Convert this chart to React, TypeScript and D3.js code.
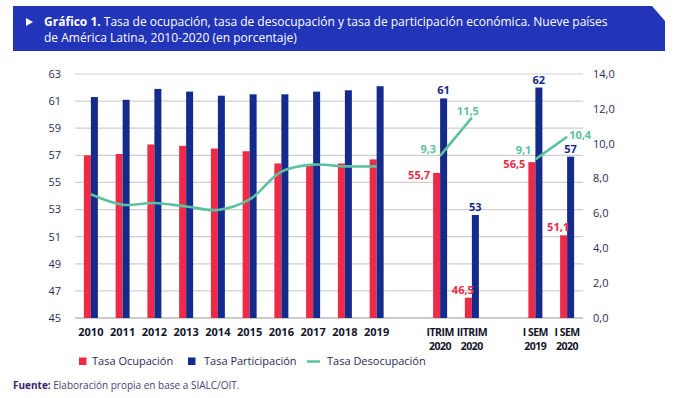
import React from "react";
import * as d3 from "d3";

const categories = [
  "2010", "2011", "2012", "2013", "2014", "2015", "2016", "2017", "2018", "2019",
  "ITRIM 2020", "IITRIM 2020", "I SEM 2019", "I SEM 2020",
];
const ocupacion = [57.0, 57.1, 57.8, 57.7, 57.5, 57.3, 56.4, 56.3, 56.4, 56.7, 55.7, 46.5, 56.5, 51.1];
const participacion = [61.3, 61.1, 61.9, 61.7, 61.4, 61.5, 61.5, 61.7, 61.8, 62.1, 61.2, 52.6, 62.0, 56.9];
const desocupacion = [7.1, 6.5, 6.6, 6.4, 6.2, 6.8, 8.4, 8.8, 8.7, 8.7, 9.3, 11.5, 9.1, 10.4];
const leftTicks = [45, 47, 49, 51, 53, 55, 57, 59, 61, 63];
const rightTicks = [0, 2, 4, 6, 8, 10, 12, 14];
// groups of categories; a blank slot separates each group
const groups = [
  [0, 1, 2, 3, 4, 5, 6, 7, 8, 9],
  [10, 11],
  [12, 13],
];
const labelled = [10, 11, 12, 13];
const legendItems = ["Tasa Ocupación", "Tasa Participación", "Tasa Desocupación"];

const RED = "#ee2a47";
const BLUE = "#152b8c";
const GREEN = "#5cc29e";
const FONT = "'Open Sans', 'Noto Sans', sans-serif";

const loc = d3.formatLocale({ decimal: ",", thousands: ".", grouping: [3], currency: ["", ""] });
const f1 = loc.format(".1f");
const f0 = loc.format(".0f");

export default function App() {
  const W = 680, H = 398;
  const left = 75, right = 583, top = 74, bottom = 318;

  // build slot domain with blank gaps between groups
  const slots: string[] = [];
  groups.forEach((g, gi) => {
    if (gi > 0) slots.push("gap" + gi);
    g.forEach((i) => slots.push(categories[i]));
  });
  const x = d3.scaleBand<string>().domain(slots).range([left, right]).paddingInner(0).paddingOuter(0);
  const cx = (i: number) => (x(categories[i]) as number) + x.bandwidth() / 2;
  const yL = d3.scaleLinear().domain([45, 63]).range([bottom, top]);
  const yR = d3.scaleLinear().domain([0, 14]).range([bottom, top]);
  const bw = 7;

  const line = d3
    .line<number>()
    .x((i) => cx(i))
    .y((i) => yR(desocupacion[i]))
    .curve(d3.curveCatmullRom.alpha(0.5));
  const straight = d3
    .line<number>()
    .x((i) => cx(i))
    .y((i) => yR(desocupacion[i]));

  // label placement offsets (layout only)
  const greenLabelPos: Record<number, { dx: number; dy: number; anchor: string }> = {
    10: { dx: -4, dy: -3, anchor: "end" },
    11: { dx: -4, dy: -3, anchor: "middle" },
    12: { dx: -4, dy: -5, anchor: "end" },
    13: { dx: 2, dy: 2, anchor: "start" },
  };

  return (
    <svg width={W} height={H} style={{ position: "absolute", left: 0, top: 0, background: "#fff" }} fontFamily={FONT}>
      {/* Title banner */}
      <path d="M13,6 L652,6 L665,21 L665,51 L13,51 Z" fill="#2234b8" />
      <path d="M26,18 L26,26 L33,22 Z" fill="#fff" />
      <text x={44} y={26} fontSize={12} fill="#fff">
        <tspan fontWeight={700}>Gráfico 1.</tspan>
        <tspan> Tasa de ocupación, tasa de desocupación y tasa de participación económica. Nueve países</tspan>
      </text>
      <text x={44} y={42} fontSize={12} fill="#fff">
        de América Latina, 2010-2020 (en porcentaje)
      </text>

      {/* Gridlines */}
      {leftTicks.map((t) => (
        <line key={t} x1={left} x2={right} y1={yL(t)} y2={yL(t)} stroke={t === 45 ? "#9a9a9a" : "#cfcfcf"} strokeWidth={1.2} />
      ))}
      {/* Left axis labels */}
      {leftTicks.map((t) => (
        <text key={"l" + t} x={61} y={yL(t)} dy="0.35em" textAnchor="end" fontSize={11} fill="#2a2c55">
          {t}
        </text>
      ))}
      {/* Right axis labels */}
      {rightTicks.map((t) => (
        <text key={"r" + t} x={593} y={yR(t)} dy="0.35em" textAnchor="start" fontSize={11} fill="#2a2c55">
          {f1(t)}
        </text>
      ))}

      {/* Bars */}
      {categories.map((c, i) => (
        <g key={c}>
          <rect x={cx(i) - bw} y={yL(ocupacion[i])} width={bw} height={bottom - yL(ocupacion[i])} fill={RED} />
          <rect x={cx(i)} y={yL(participacion[i])} width={bw} height={bottom - yL(participacion[i])} fill={BLUE} />
        </g>
      ))}

      {/* Desocupacion lines */}
      {groups.map((g, gi) => (
        <path
          key={"ln" + gi}
          d={(gi === 0 ? line : straight)(g) as string}
          fill="none"
          stroke={GREEN}
          strokeWidth={2.6}
        />
      ))}

      {/* Value labels */}
      {labelled.map((i, k) => {
        const first = k % 2 === 0;
        const rx = cx(i) - bw;
        const ry = yL(ocupacion[i]);
        const g = greenLabelPos[i];
        return (
          <g key={"lab" + i} fontSize={11} fontWeight={700}>
            {first ? (
              <text x={rx - 3} y={ry + 2} dy="0.35em" textAnchor="end" fill={RED}>
                {f1(ocupacion[i])}
              </text>
            ) : (
              <text x={cx(i) + 2} y={ry - 4} textAnchor="end" fill={RED}>
                {f1(ocupacion[i])}
              </text>
            )}
            <text x={cx(i) + bw / 2} y={yL(participacion[i]) - 4} textAnchor="middle" fill={BLUE}>
              {f0(participacion[i])}
            </text>
            <text x={cx(i) + g.dx} y={yR(desocupacion[i]) + g.dy} textAnchor={g.anchor} fill={GREEN}>
              {f1(desocupacion[i])}
            </text>
          </g>
        );
      })}

      {/* X axis labels */}
      {categories.map((c, i) => {
        const multi = c.startsWith("I");
        const parts = multi ? [c.slice(0, c.lastIndexOf(" ")), c.slice(c.lastIndexOf(" ") + 1)] : [c];
        return (
          <text
            key={"x" + c}
            x={cx(i)}
            y={335.5}
            textAnchor="middle"
            fontSize={multi ? 10.5 : 11}
            letterSpacing={multi ? -0.5 : 0}
            fontWeight={700}
            fill="#15152a"
          >
            {parts.map((p, j) => (
              <tspan key={j} x={cx(i)} dy={j === 0 ? 0 : 14.5}>
                {p}
              </tspan>
            ))}
          </text>
        );
      })}

      {/* Legend */}
      <g fontSize={11} fill="#2a2c55">
        <rect x={79} y={357.5} width={7.5} height={7.5} fill={RED} />
        <text x={92} y={361.5} dy="0.35em">{legendItems[0]}</text>
        <rect x={188} y={357.5} width={7.5} height={7.5} fill={BLUE} />
        <text x={204} y={361.5} dy="0.35em">{legendItems[1]}</text>
        <line x1={307} x2={320} y1={361.5} y2={361.5} stroke={GREEN} strokeWidth={2.5} />
        <text x={327} y={361.5} dy="0.35em">{legendItems[2]}</text>
      </g>

      {/* Footer */}
      <text x={13} y={389} fontSize={10}>
        <tspan fontWeight={700} fill="#3b1f6e">Fuente:</tspan>
        <tspan fill="#4a3c78"> Elaboración propia en base a SIALC/OIT.</tspan>
      </text>
    </svg>
  );
}
